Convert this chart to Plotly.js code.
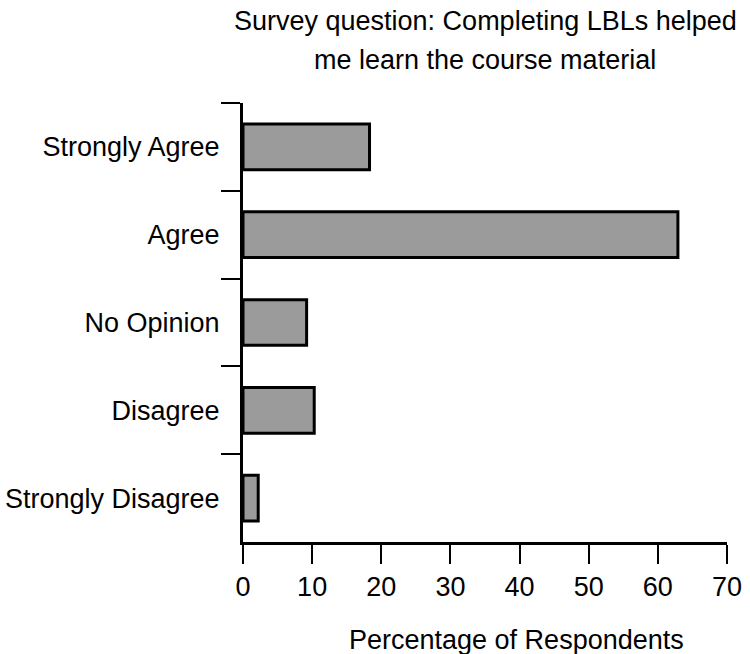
<!DOCTYPE html>
<html>
<head>
<meta charset="utf-8">
<script src="https://cdn.plot.ly/plotly-3.0.1.min.js"></script>
<style>html,body{margin:0;padding:0;background:#fff;}#chart{width:750px;height:654px;}</style>
</head>
<body>
<div id="chart"></div>
<script>
const categories = ["Strongly Agree", "Agree", "No Opinion", "Disagree", "Strongly Disagree"];
const percentages = [18.3, 62.9, 9.2, 10.3, 2.2];
const xTickValues = [0, 10, 20, 30, 40, 50, 60, 70];
const titleLines = ["Survey question: Completing LBLs helped", "me learn the course material"];
const xTitleText = "Percentage of Respondents";

const FONT = "Liberation Sans, Arial, Helvetica, sans-serif";

const trace = {
  type: "bar",
  orientation: "h",
  x: percentages,
  y: categories,
  width: 0.52,
  marker: { color: "#9b9b9b", line: { color: "#000000", width: 3 } },
  hoverinfo: "x+y"
};

const titleYs = [1.1868, 1.098];

const layout = {
  width: 750,
  height: 654,
  margin: { l: 243, r: 23, t: 103, b: 112, pad: 0 },
  paper_bgcolor: "#ffffff",
  plot_bgcolor: "#ffffff",
  showlegend: false,
  font: { family: FONT, size: 27, color: "#000000" },
  xaxis: {
    range: [0, 70],
    tickvals: xTickValues,
    ticktext: xTickValues.map(String),
    showgrid: false,
    zeroline: false,
    showline: true,
    linecolor: "#000000",
    linewidth: 3,
    ticks: "outside",
    ticklen: 19,
    tickwidth: 2,
    tickcolor: "#000000",
    tickfont: { family: FONT, size: 27, color: "#000000" },
    fixedrange: true
  },
  yaxis: {
    type: "category",
    categoryorder: "array",
    categoryarray: categories,
    autorange: "reversed",
    range: [4.5, -0.5],
    showgrid: false,
    zeroline: false,
    showline: true,
    linecolor: "#000000",
    linewidth: 3,
    ticks: "outside",
    tickson: "boundaries",
    ticklen: 19,
    tickwidth: 2,
    tickcolor: "#000000",
    ticklabelstandoff: 15,
    tickfont: { family: FONT, size: 27, color: "#000000" },
    fixedrange: true
  },
  annotations: titleLines.map((t, i) => ({
    text: t,
    xref: "paper",
    yref: "paper",
    x: 0.5,
    y: titleYs[i],
    xanchor: "center",
    yanchor: "middle",
    showarrow: false,
    font: { family: FONT, size: 27, color: "#000000" }
  })).concat([{
    text: xTitleText,
    xref: "paper",
    yref: "paper",
    x: 0.5655,
    y: -0.223,
    xanchor: "center",
    yanchor: "middle",
    showarrow: false,
    font: { family: FONT, size: 27, color: "#000000" }
  }])
};

Plotly.newPlot("chart", [trace], layout, { displayModeBar: false, staticPlot: true });
</script>
</body>
</html>
